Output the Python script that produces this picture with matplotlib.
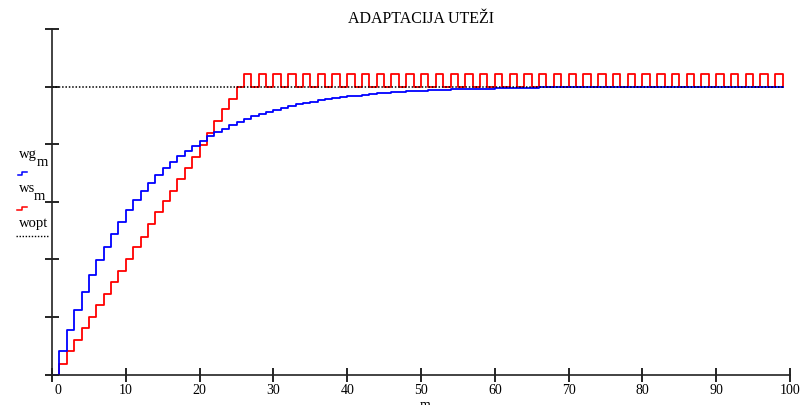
import matplotlib
matplotlib.use("Agg")
import matplotlib.pyplot as plt
from matplotlib.lines import Line2D
import matplotlib.transforms as mtransforms
import numpy as np

plt.rcParams['font.family'] = ['Liberation Serif', 'DejaVu Serif']

# data (iteration index m = 0..99)
m = np.arange(100)
wg = [0.0, 0.081, 0.155, 0.224, 0.288, 0.344, 0.396, 0.443, 0.489, 0.530,
      0.570, 0.605, 0.637, 0.665, 0.692, 0.717, 0.739, 0.759, 0.778, 0.795,
      0.811, 0.827, 0.841, 0.854, 0.866, 0.877, 0.887, 0.897, 0.905, 0.913,
      0.920, 0.927, 0.933, 0.938, 0.943, 0.948, 0.952, 0.956, 0.960, 0.963,
      0.966, 0.969, 0.971, 0.974, 0.976, 0.978, 0.980, 0.981, 0.983, 0.984,
      0.985, 0.987, 0.988, 0.989, 0.990, 0.991, 0.991, 0.992, 0.993, 0.993,
      0.994, 0.995, 0.995, 0.996, 0.996, 0.996, 0.997, 0.997, 0.997, 0.998,
      0.998, 0.998, 0.998, 0.998, 0.999, 0.999, 0.999, 0.999, 0.999, 0.999,
      0.999, 0.999, 0.999, 1.000, 1.000, 1.000, 1.000, 1.000, 1.000, 1.000,
      1.000, 1.000, 1.000, 1.000, 1.000, 1.000, 1.000, 1.000, 1.000, 1.000]
ws = [0.0, 0.037, 0.081, 0.120, 0.161, 0.201, 0.242, 0.281, 0.322, 0.360,
      0.402, 0.442, 0.479, 0.521, 0.564, 0.602, 0.639, 0.680, 0.717, 0.755,
      0.798, 0.838, 0.879, 0.921, 0.958, 1.000, 1.042, 1.000, 1.042, 1.000,
      1.042, 1.000, 1.042, 1.000, 1.042, 1.000, 1.042, 1.000, 1.042, 1.000,
      1.042, 1.000, 1.042, 1.000, 1.042, 1.000, 1.042, 1.000, 1.042, 1.000,
      1.042, 1.000, 1.042, 1.000, 1.042, 1.000, 1.042, 1.000, 1.042, 1.000,
      1.042, 1.000, 1.042, 1.000, 1.042, 1.000, 1.042, 1.000, 1.042, 1.000,
      1.042, 1.000, 1.042, 1.000, 1.042, 1.000, 1.042, 1.000, 1.042, 1.000,
      1.042, 1.000, 1.042, 1.000, 1.042, 1.000, 1.042, 1.000, 1.042, 1.000,
      1.042, 1.000, 1.042, 1.000, 1.042, 1.000, 1.042, 1.000, 1.042, 1.000]
wopt = 1.0
xticks = [0, 10, 20, 30, 40, 50, 60, 70, 80, 90, 100]
yticks = [0, 0.2, 0.4, 0.6, 0.8, 1.0, 1.2]

W, H = 800, 406
fig = plt.figure(figsize=(W / 100, H / 100), dpi=100)
ax = fig.add_axes([52 / W, 30.5 / H, 738 / W, 345.5 / H])

ax.step(m, ws, where='post', color='#ff0000', lw=1.3)
ax.step(m, wg, where='post', color='#0000ff', lw=1.3)
ax.plot(m, [wopt] * len(m), color='black', lw=1.1, linestyle=(0, (1, 1.2)))

ax.set_xlim(0, 100)
ax.set_ylim(0, 1.2)
ax.set_xticks(xticks)
ax.set_yticks(yticks)
ax.set_yticklabels([])
ax.tick_params(direction='inout', length=10, width=1.2, colors='black', labelsize=10)
ax.tick_params(axis='x', pad=1)
for s in ['top', 'right']:
    ax.spines[s].set_visible(False)
for s in ['left', 'bottom']:
    ax.spines[s].set_linewidth(1.2)
    ax.spines[s].set_color('#222222')

# the "0" label sits a little to the right of the axis in the reference
lbl0 = ax.get_xticklabels()[0]
lbl0.set_transform(lbl0.get_transform() + mtransforms.ScaledTranslation(6 / 100, 0, fig.dpi_scale_trans))

ax.set_title('ADAPTACIJA UTEŽI', fontsize=11.5, pad=5)
fig.text(425 / W, 1 - 399 / H, 'm', fontsize=10, ha='center', va='top')


# legend on the left, placed in pixel coordinates
def fx(x):
    return x / W


def fy(y):
    return 1 - y / H


fig.text(fx(19), fy(158), 'wg', fontsize=10.5, ha='left', va='baseline')
fig.text(fx(37), fy(166), 'm', fontsize=10.5, ha='left', va='baseline')
fig.text(fx(19), fy(192), 'ws', fontsize=10.5, ha='left', va='baseline')
fig.text(fx(34), fy(200), 'm', fontsize=10.5, ha='left', va='baseline')
fig.text(fx(19), fy(227), 'wopt', fontsize=10.5, ha='left', va='baseline')

fig.add_artist(Line2D([fx(18), fx(22), fx(22), fx(27)], [fy(176), fy(176), fy(173), fy(173)],
                      color='#0000ff', lw=1.1, transform=fig.transFigure))
fig.add_artist(Line2D([fx(17), fx(22), fx(22), fx(27)], [fy(211), fy(211), fy(208), fy(208)],
                      color='#ff0000', lw=1.1, transform=fig.transFigure))
fig.add_artist(Line2D([fx(16), fx(48)], [fy(237), fy(237)], color='black', lw=1.0,
                      linestyle=(0, (1, 1.2)), transform=fig.transFigure))

fig.savefig('out.png', dpi=100)
